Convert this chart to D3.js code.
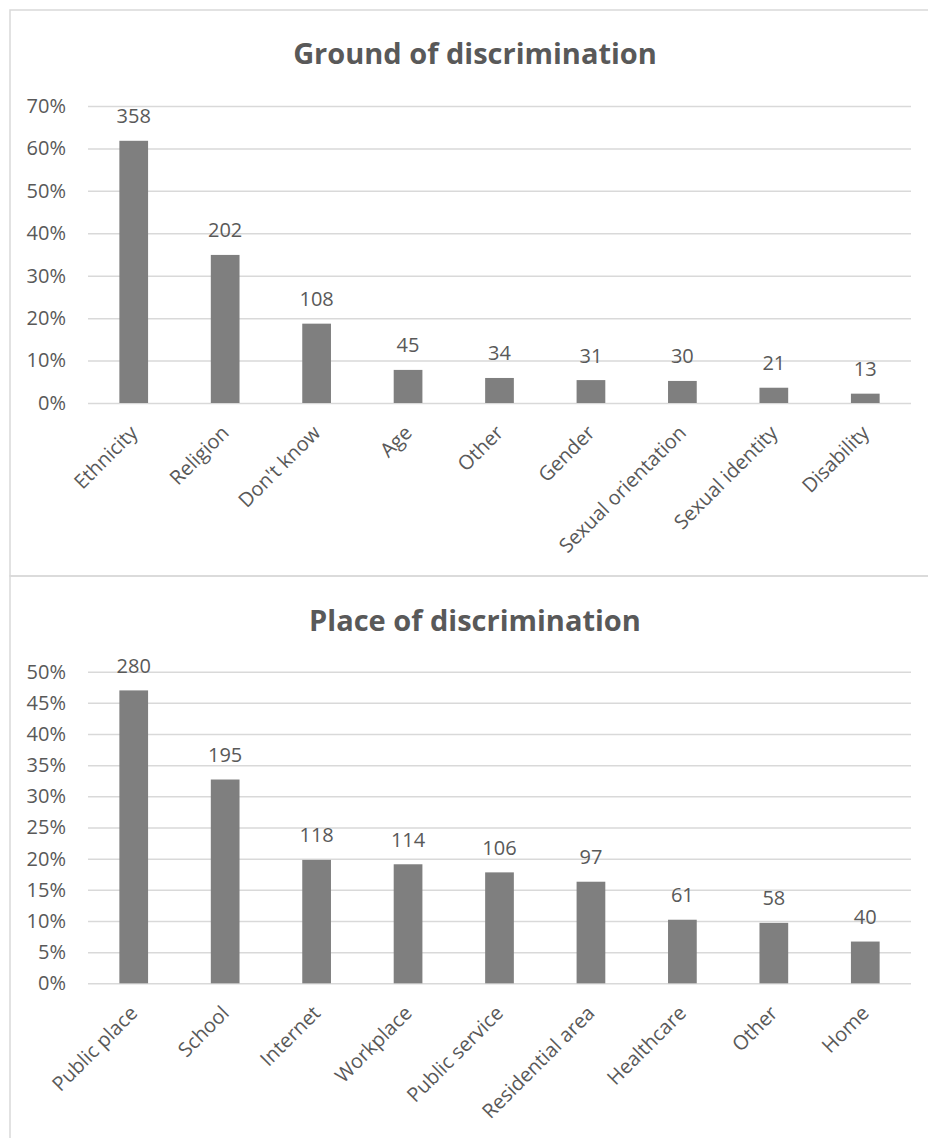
<!DOCTYPE html>
<html>
<head>
<meta charset="utf-8">
<script src="https://cdn.jsdelivr.net/npm/d3@7"></script>
<style>
  body { margin: 0; background: #fff; }
  svg text { font-family: "Open Sans", sans-serif; fill: #595959; }
</style>
</head>
<body>
<div id="chart"></div>
<script>
// top chart: ground of discrimination
const groundCategories = ["Ethnicity", "Religion", "Don't know", "Age", "Other", "Gender", "Sexual orientation", "Sexual identity", "Disability"];
const groundCounts = [358, 202, 108, 45, 34, 31, 30, 21, 13];
const groundPercent = [61.8, 34.9, 18.7, 7.8, 5.9, 5.4, 5.2, 3.6, 2.2];
const groundTicks = [0, 10, 20, 30, 40, 50, 60, 70];

// bottom chart: place of discrimination
const placeCategories = ["Public place", "School", "Internet", "Workplace", "Public service", "Residential area", "Healthcare", "Other", "Home"];
const placeCounts = [280, 195, 118, 114, 106, 97, 61, 58, 40];
const placePercent = [47.0, 32.7, 19.8, 19.1, 17.8, 16.3, 10.2, 9.7, 6.7];
const placeTicks = [0, 5, 10, 15, 20, 25, 30, 35, 40, 45, 50];

const width = 928, height = 1138;
const barColor = "#7f7f7f", gridColor = "#d9d9d9";

const svg = d3.select("#chart").append("svg")
  .attr("width", width)
  .attr("height", height);

svg.append("rect").attr("width", width).attr("height", height).attr("fill", "#fff");

function drawChart(opts) {
  const g = svg.append("g");

  // panel border
  g.append("rect")
    .attr("x", 10).attr("y", opts.top)
    .attr("width", 960).attr("height", opts.panelHeight)
    .attr("fill", "none")
    .attr("stroke", gridColor)
    .attr("stroke-width", 1.5);

  g.append("text")
    .attr("x", 475).attr("y", opts.titleY)
    .attr("text-anchor", "middle")
    .style("font-size", "29px")
    .style("font-weight", "bold")
    .text(opts.title);

  const x = d3.scaleBand()
    .domain(opts.categories)
    .range([88, 911])
    .paddingInner(0.686)
    .paddingOuter(0.343);

  const y = d3.scaleLinear()
    .domain([0, d3.max(opts.ticks)])
    .range([opts.y0, opts.yMax]);

  // gridlines + tick labels
  const yAxis = d3.axisLeft(y)
    .tickValues(opts.ticks)
    .tickSize(-(911 - 88))
    .tickFormat(d => d + "%");

  const ax = g.append("g")
    .attr("transform", "translate(88,0)")
    .call(yAxis);
  ax.select(".domain").remove();
  ax.selectAll(".tick line").attr("stroke", gridColor).attr("stroke-width", 1.5);
  ax.selectAll(".tick text")
    .attr("x", -22)
    .style("font-size", "20px")
    .style("font-family", "'Open Sans', sans-serif")
    .attr("fill", "#595959");

  const data = opts.categories.map((c, i) => ({ name: c, count: opts.counts[i], pct: opts.percent[i] }));

  g.selectAll(".bar")
    .data(data)
    .enter()
    .append("rect")
    .attr("class", "bar")
    .attr("x", d => x(d.name))
    .attr("y", d => y(d.pct))
    .attr("width", x.bandwidth())
    .attr("height", d => y(0) - y(d.pct))
    .attr("fill", barColor);

  g.selectAll(".val")
    .data(data)
    .enter()
    .append("text")
    .attr("class", "val")
    .attr("x", d => x(d.name) + x.bandwidth() / 2)
    .attr("y", d => y(d.pct) - 17.5)
    .attr("text-anchor", "middle")
    .style("font-size", "20px")
    .text(d => d.count);

  // x labels rotated 45 degrees
  g.selectAll(".cat")
    .data(data)
    .enter()
    .append("text")
    .attr("class", "cat")
    .attr("text-anchor", "end")
    .attr("transform", d => "translate(" + (x(d.name) + x.bandwidth() / 2 - 5) + "," + (y(0) + 21) + ") rotate(-45)")
    .attr("dy", "0.71em")
    .style("font-size", "20px")
    .text(d => d.name);
}

drawChart({
  top: 10, panelHeight: 566, titleY: 64,
  title: "Ground of discrimination",
  categories: groundCategories, counts: groundCounts, percent: groundPercent,
  ticks: groundTicks, y0: 403, yMax: 106
});

drawChart({
  top: 576, panelHeight: 600, titleY: 630.5,
  title: "Place of discrimination",
  categories: placeCategories, counts: placeCounts, percent: placePercent,
  ticks: placeTicks, y0: 983.3, yMax: 671.7
});
</script>
</body>
</html>
